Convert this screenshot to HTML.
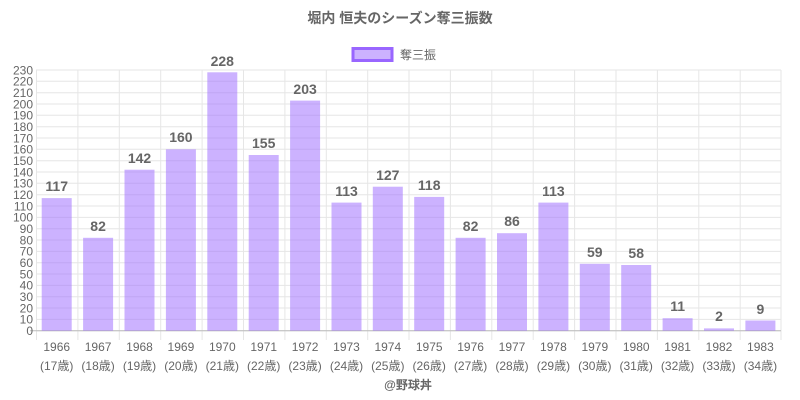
<!DOCTYPE html>
<html><head><meta charset="utf-8"><style>
body{margin:0;background:#fff}
svg{display:block;font-family:"Liberation Sans","Noto Sans CJK JP",sans-serif}
</style></head><body>
<svg width="800" height="400" viewBox="0 0 800 400">
<text x="400" y="23" text-anchor="middle" font-size="14" font-weight="bold" fill="#666">堀内 恒夫のシーズン奪三振数</text>
<rect x="353" y="48.5" width="39" height="12" fill="rgba(153,102,255,0.5)" stroke="#9966ff" stroke-width="3"/>
<text x="400" y="59" font-size="12" fill="#666">奪三振</text>
<g stroke="#e6e6e6" stroke-width="1">
<line x1="36" x2="781" y1="330.7" y2="330.7"/><line x1="36" x2="781" y1="319.4" y2="319.4"/><line x1="36" x2="781" y1="308.0" y2="308.0"/><line x1="36" x2="781" y1="296.7" y2="296.7"/><line x1="36" x2="781" y1="285.4" y2="285.4"/><line x1="36" x2="781" y1="274.0" y2="274.0"/><line x1="36" x2="781" y1="262.7" y2="262.7"/><line x1="36" x2="781" y1="251.4" y2="251.4"/><line x1="36" x2="781" y1="240.0" y2="240.0"/><line x1="36" x2="781" y1="228.7" y2="228.7"/><line x1="36" x2="781" y1="217.4" y2="217.4"/><line x1="36" x2="781" y1="206.0" y2="206.0"/><line x1="36" x2="781" y1="194.7" y2="194.7"/><line x1="36" x2="781" y1="183.3" y2="183.3"/><line x1="36" x2="781" y1="172.0" y2="172.0"/><line x1="36" x2="781" y1="160.7" y2="160.7"/><line x1="36" x2="781" y1="149.3" y2="149.3"/><line x1="36" x2="781" y1="138.0" y2="138.0"/><line x1="36" x2="781" y1="126.7" y2="126.7"/><line x1="36" x2="781" y1="115.3" y2="115.3"/><line x1="36" x2="781" y1="104.0" y2="104.0"/><line x1="36" x2="781" y1="92.7" y2="92.7"/><line x1="36" x2="781" y1="81.3" y2="81.3"/><line x1="36" x2="781" y1="70.0" y2="70.0"/>
<line x1="36.5" x2="36.5" y1="70" y2="340"/><line x1="77.9" x2="77.9" y1="70" y2="340"/><line x1="119.3" x2="119.3" y1="70" y2="340"/><line x1="160.7" x2="160.7" y1="70" y2="340"/><line x1="202.1" x2="202.1" y1="70" y2="340"/><line x1="243.5" x2="243.5" y1="70" y2="340"/><line x1="284.9" x2="284.9" y1="70" y2="340"/><line x1="326.3" x2="326.3" y1="70" y2="340"/><line x1="367.7" x2="367.7" y1="70" y2="340"/><line x1="409.0" x2="409.0" y1="70" y2="340"/><line x1="450.4" x2="450.4" y1="70" y2="340"/><line x1="491.8" x2="491.8" y1="70" y2="340"/><line x1="533.2" x2="533.2" y1="70" y2="340"/><line x1="574.6" x2="574.6" y1="70" y2="340"/><line x1="616.0" x2="616.0" y1="70" y2="340"/><line x1="657.4" x2="657.4" y1="70" y2="340"/><line x1="698.8" x2="698.8" y1="70" y2="340"/><line x1="740.2" x2="740.2" y1="70" y2="340"/><line x1="781" x2="781" y1="70" y2="340"/>
</g>
<line x1="30" x2="781" y1="330.7" y2="330.7" stroke="#bbb"/>
<g font-size="12" fill="#666" text-anchor="end">
<text x="33" y="335">0</text><text x="33" y="323.7">10</text><text x="33" y="312.3">20</text><text x="33" y="301">30</text><text x="33" y="289.7">40</text><text x="33" y="278.3">50</text><text x="33" y="267">60</text><text x="33" y="255.7">70</text><text x="33" y="244.3">80</text><text x="33" y="233">90</text><text x="33" y="221.7">100</text><text x="33" y="210.3">110</text><text x="33" y="199">120</text><text x="33" y="187.6">130</text><text x="33" y="176.3">140</text><text x="33" y="165">150</text><text x="33" y="153.6">160</text><text x="33" y="142.3">170</text><text x="33" y="131">180</text><text x="33" y="119.6">190</text><text x="33" y="108.3">200</text><text x="33" y="97">210</text><text x="33" y="85.6">220</text><text x="33" y="74.3">230</text>
</g>
<g fill="rgba(153,102,255,0.5)">
<rect x="41.7" y="198.1" width="30" height="132.6"/><rect x="83.1" y="237.8" width="30" height="92.9"/><rect x="124.5" y="169.7" width="30" height="161"/><rect x="165.9" y="149.3" width="30" height="181.4"/><rect x="207.3" y="72.3" width="30" height="258.4"/><rect x="248.7" y="155" width="30" height="175.7"/><rect x="290.1" y="100.6" width="30" height="230.1"/><rect x="331.5" y="202.6" width="30" height="128.1"/><rect x="372.8" y="186.7" width="30" height="144"/><rect x="414.2" y="196.9" width="30" height="133.8"/><rect x="455.6" y="237.8" width="30" height="92.9"/><rect x="497" y="233.2" width="30" height="97.5"/><rect x="538.4" y="202.6" width="30" height="128.1"/><rect x="579.8" y="263.8" width="30" height="66.9"/><rect x="621.2" y="265" width="30" height="65.7"/><rect x="662.6" y="318.2" width="30" height="12.5"/><rect x="704" y="328.4" width="30" height="2.3"/><rect x="745.4" y="320.5" width="30" height="10.2"/>
</g>
<g font-size="14" font-weight="bold" fill="#666" text-anchor="middle">
<text x="56.7" y="191">117</text><text x="98.1" y="231">82</text><text x="139.5" y="163">142</text><text x="180.9" y="142">160</text><text x="222.3" y="66">228</text><text x="263.7" y="148">155</text><text x="305.1" y="94">203</text><text x="346.5" y="196">113</text><text x="387.8" y="180">127</text><text x="429.2" y="190">118</text><text x="470.6" y="231">82</text><text x="512" y="226">86</text><text x="553.4" y="196">113</text><text x="594.8" y="257">59</text><text x="636.2" y="258">58</text><text x="677.6" y="311">11</text><text x="719" y="321">2</text><text x="760.4" y="314">9</text>
</g>
<g font-size="12" fill="#666" text-anchor="middle">
<text x="56.7" y="351">1966</text><text x="98.1" y="351">1967</text><text x="139.5" y="351">1968</text><text x="180.9" y="351">1969</text><text x="222.3" y="351">1970</text><text x="263.7" y="351">1971</text><text x="305.1" y="351">1972</text><text x="346.5" y="351">1973</text><text x="387.8" y="351">1974</text><text x="429.2" y="351">1975</text><text x="470.6" y="351">1976</text><text x="512" y="351">1977</text><text x="553.4" y="351">1978</text><text x="594.8" y="351">1979</text><text x="636.2" y="351">1980</text><text x="677.6" y="351">1981</text><text x="719" y="351">1982</text><text x="760.4" y="351">1983</text>
<text x="56.7" y="370">(17歳)</text><text x="98.1" y="370">(18歳)</text><text x="139.5" y="370">(19歳)</text><text x="180.9" y="370">(20歳)</text><text x="222.3" y="370">(21歳)</text><text x="263.7" y="370">(22歳)</text><text x="305.1" y="370">(23歳)</text><text x="346.5" y="370">(24歳)</text><text x="387.8" y="370">(25歳)</text><text x="429.2" y="370">(26歳)</text><text x="470.6" y="370">(27歳)</text><text x="512" y="370">(28歳)</text><text x="553.4" y="370">(29歳)</text><text x="594.8" y="370">(30歳)</text><text x="636.2" y="370">(31歳)</text><text x="677.6" y="370">(32歳)</text><text x="719" y="370">(33歳)</text><text x="760.4" y="370">(34歳)</text>
</g>
<text x="408" y="389" text-anchor="middle" font-size="12" font-weight="bold" fill="#666">@野球丼</text>
</svg>
</body></html>
